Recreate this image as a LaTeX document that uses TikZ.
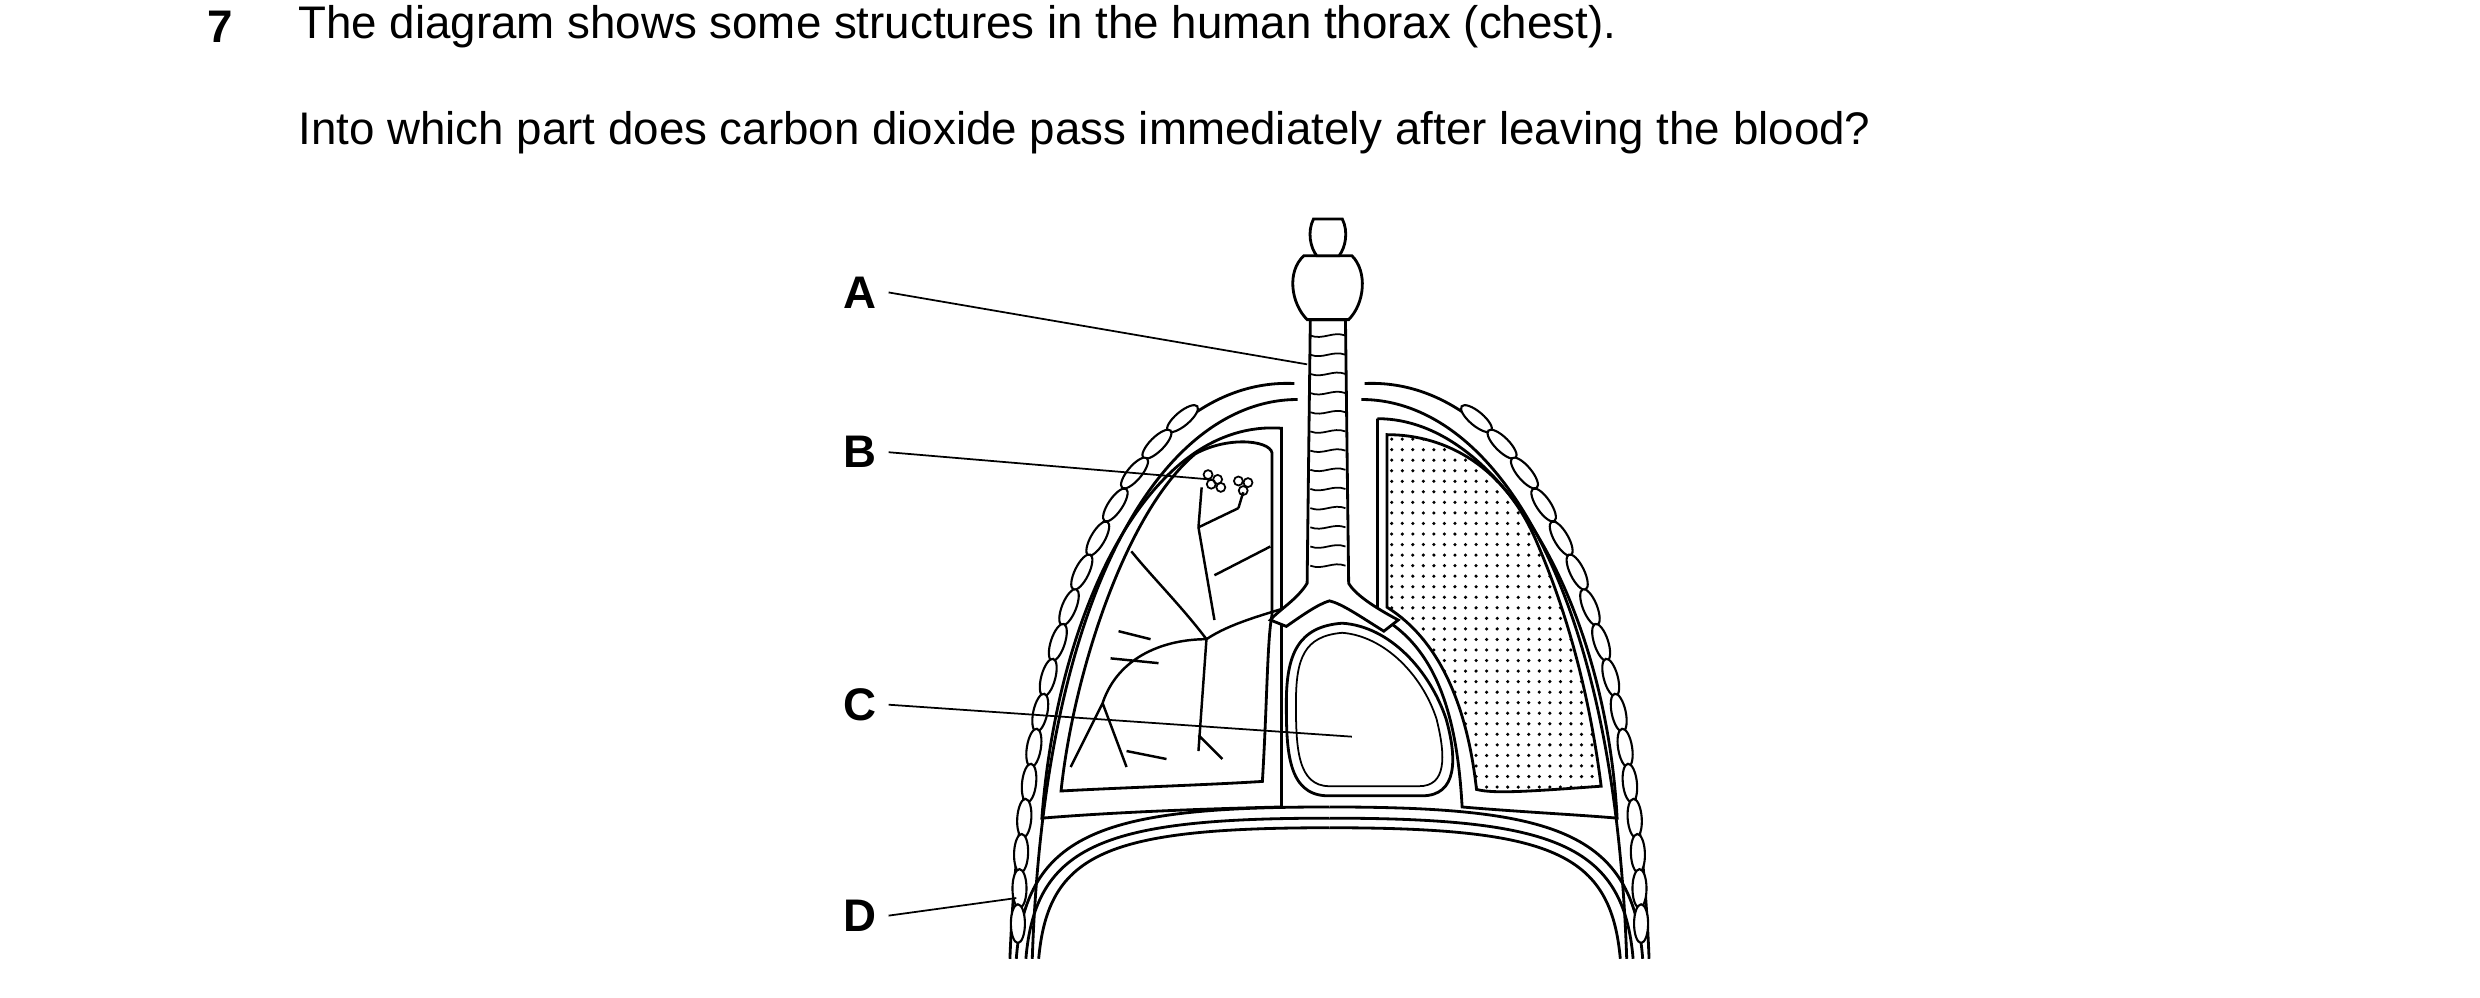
\documentclass[tikz,border=0pt]{standalone}
\usepackage{fontspec}
\setmainfont{Liberation Sans}
\usetikzlibrary{patterns,shapes.geometric}
\tikzset{
  lbl/.style={font=\fontsize{13}{16}\selectfont\bfseries, anchor=center},
  txt/.style={font=\fontsize{13}{16}\selectfont, anchor=west},
  ptr/.style={line width=0.5pt},
  organ/.style={line width=0.8pt},
  bead/.style={draw, line width=0.6pt, fill=white, ellipse, minimum width=4pt, minimum height=11pt, inner sep=0pt}
}
\begin{document}
\begin{tikzpicture}[x=0.1598mm,y=-0.1598mm]
\useasboundingbox (0,0) rectangle (1552,624.5);
% question text
\node[lbl] (num) at (138,17) {7};
\node[txt] (q1) at (179,17) {The diagram shows some structures in the human thorax (chest).};
\node[txt] (q2) at (179,83) {Into which part does carbon dioxide pass immediately after leaving the blood?};

% chest wall, both sides
\foreach \s in {1,-1}{
  \begin{scope}[shift={(832,0)}, xscale=\s]
    \draw[organ] (-22,240) .. controls (-110,236) and (-190,350) .. (-200,600);
    \draw[organ] (-20,250) .. controls (-100,250) and (-178,360) .. (-186,600);
    \draw[organ] (-196,600) .. controls (-190,520) and (-140,505) .. (0,505);
    \draw[organ] (-190,600) .. controls (-184,528) and (-140,512) .. (0,512);
    \draw[organ] (-182,600) .. controls (-176,534) and (-140,518) .. (0,518);
    \foreach \x/\y/\r in {-92/262/50,-108/278/45,-122/296/40,-134/316/34,-145/337/30,-155/358/26,-163/380/22,-170/402/18,-176/424/15,-181/446/12,-185/468/9,-188/490/6,-191/512/4,-193/534/2,-194/556/0,-195/578/0}
      \node[bead, rotate=-\s*\r] at (\x,\y) {};
  \end{scope}
}
% pleura
\draw[organ] (802,505) -- (802,268) .. controls (720,262) and (662,380) .. (652,512)
  .. controls (700,508) and (760,506) .. (802,505);
\draw[organ] (862,262) -- (862,385) .. controls (900,405) and (912,450) .. (915,505)
  .. controls (950,508) and (990,510) .. (1012,512) .. controls (1005,380) and (940,262) .. (862,262);
% left lung
\draw[organ] (796,285) .. controls (798,276) and (770,272) .. (748,284)
  .. controls (705,320) and (672,420) .. (664,495)
  .. controls (700,493) and (760,491) .. (790,489)
  .. controls (793,440) and (793,400) .. (796,385) -- cycle;
% bronchial tree
\draw[line width=0.7pt] (812,378) .. controls (790,385) and (770,390) .. (755,400)
  (755,400) -- (750,470) (755,400) .. controls (730,400) and (700,410) .. (690,440)
  (690,440) -- (670,480) (690,440) -- (705,480) (705,470) -- (730,475)
  (755,400) .. controls (740,380) and (720,360) .. (708,345)
  (760,388) -- (750,330) (750,330) -- (752,305) (750,330) -- (775,318)
  (775,318) -- (778,308) (760,360) -- (795,342)
  (720,400) -- (700,395) (725,415) -- (695,412) (750,460) -- (765,475);
\foreach \x/\y in {756/297, 762/300, 758/303, 764/305, 775/301, 781/302, 778/307}
  \draw[line width=0.5pt] (\x,\y) circle (2.8);
% right lung
\draw[organ, pattern=dots] (868,272) .. controls (905,272) and (942,292) .. (962,340)
  .. controls (988,400) and (998,460) .. (1002,492)
  .. controls (960,495) and (935,497) .. (924,494)
  .. controls (918,440) and (900,400) .. (868,380) -- cycle;
% heart
\draw[organ] (840,390) .. controls (812,392) and (805,410) .. (805,440)
  .. controls (805,470) and (806,497) .. (830,498) -- (890,498)
  .. controls (912,498) and (912,475) .. (905,450)
  .. controls (895,420) and (870,392) .. (840,390) -- cycle;
\draw[line width=0.5pt] (840,396) .. controls (816,398) and (811,412) .. (811,440)
  .. controls (811,468) and (812,492) .. (832,492) -- (888,492)
  .. controls (905,492) and (905,474) .. (899,450)
  .. controls (890,422) and (866,398) .. (840,396) -- cycle;
% trachea and larynx
\draw[organ, fill=white] (820,200) -- (818,365) .. controls (812,375) and (800,382) .. (795,388)
  -- (805,392) .. controls (815,385) and (825,378) .. (832,376)
  .. controls (840,378) and (850,385) .. (866,395) -- (875,388)
  .. controls (860,380) and (848,372) .. (844,365) -- (842,200) -- cycle;
\foreach \y in {210,222,234,246,258,270,282,294,306,318,330,342,354}
  \draw[line width=0.5pt] (820,\y) .. controls (828,\y+3) and (834,\y-3) .. (842,\y);
\draw[organ, fill=white] (816,160) .. controls (805,170) and (808,190) .. (818,200) -- (844,200)
  .. controls (854,190) and (856,170) .. (846,160) -- cycle;
\draw[organ, fill=white] (822,137) .. controls (818,145) and (820,155) .. (824,160) -- (838,160)
  .. controls (842,155) and (844,145) .. (840,137) -- cycle;
% labels and pointers
\node[lbl] (A) at (538,183) {A};
\node[lbl] (B) at (538,283) {B};
\node[lbl] (C) at (538,441) {C};
\node[lbl] (D) at (538,573) {D};
\coordinate (pA) at (818,228);
\coordinate (pB) at (757,300);
\coordinate (pC) at (846,461);
\coordinate (pD) at (636,562);
\draw[ptr] (A.east) -- (pA);
\draw[ptr] (B.east) -- (pB);
\draw[ptr] (C.east) -- (pC);
\draw[ptr] (D.east) -- (pD);
\end{tikzpicture}
\end{document}
